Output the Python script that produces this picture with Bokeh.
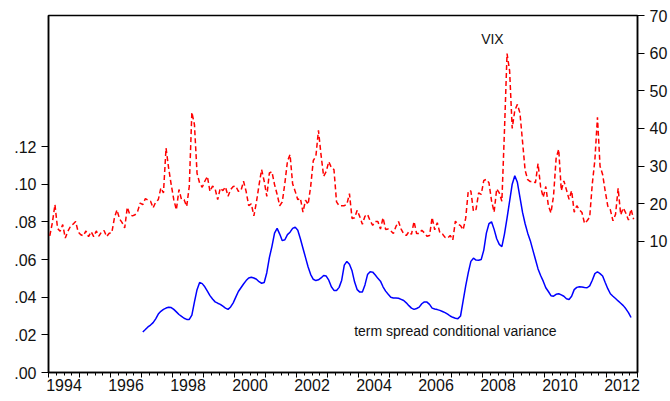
from bokeh.plotting import figure
from bokeh.models import Range1d, LinearAxis, FixedTicker, Label
from bokeh.embed import file_html
from bokeh.resources import INLINE

# ---------------- data ----------------
# VIX, monthly, Jan 1994 .. Nov 2012 (right axis)
vix_start = (1994, 1)
vix = [
    11.5, 15.0, 19.8, 13.5, 12.7, 14.5, 10.9, 12.7, 14.0, 14.6, 15.3, 12.5,
    11.8, 11.5, 12.8, 11.3, 12.6, 11.3, 12.8, 11.4, 12.5, 12.9, 11.3, 12.2,
    12.3, 16.2, 18.4, 16.0, 15.0, 13.6, 19.1, 17.1, 16.8, 17.1, 18.0, 20.2,
    19.8, 21.4, 21.0, 20.7, 18.9, 20.5, 21.1, 24.2, 22.9, 34.8, 29.5, 25.1,
    21.1, 18.4, 23.8, 21.1, 21.1, 19.3, 24.7, 44.3, 41.0, 28.1, 25.5, 24.4,
    26.0, 27.3, 23.3, 24.7, 24.0, 21.1, 24.2, 23.5, 24.5, 22.0, 23.8, 24.6,
    24.7, 23.3, 23.5, 26.0, 23.3, 19.5, 20.0, 16.8, 20.5, 25.0, 29.1, 26.0,
    22.0, 28.2, 28.5, 25.1, 22.5, 19.5, 20.5, 25.5, 31.3, 33.1, 25.3, 23.3,
    21.1, 21.5, 17.8, 21.0, 19.8, 24.7, 31.5, 32.6, 39.5, 33.0, 27.3, 28.6,
    31.2, 29.6, 29.1, 20.5, 19.5, 19.5, 19.5, 19.9, 22.7, 16.1, 16.3, 18.3,
    16.6, 14.6, 16.7, 17.2, 15.5, 14.3, 15.3, 15.3, 13.3, 16.3, 13.2, 13.3,
    12.8, 12.1, 14.0, 15.3, 13.3, 12.0, 11.6, 12.6, 11.9, 15.3, 12.1, 12.1,
    13.0, 12.3, 11.4, 11.6, 16.4, 13.1, 15.0, 12.3, 12.0, 11.1, 10.9, 11.6,
    10.4, 15.4, 14.6, 14.2, 13.1, 16.2, 23.5, 23.4, 18.0, 18.5, 22.9, 22.5,
    26.2, 26.5, 25.6, 20.8, 17.8, 24.0, 22.9, 20.7, 39.4, 59.9, 55.3, 40.0,
    44.8, 46.4, 44.1, 36.5, 28.9, 26.4, 25.9, 26.0, 25.6, 30.7, 24.5, 21.7,
    24.6, 19.5, 17.6, 22.1, 32.1, 34.5, 23.5, 26.1, 23.7, 21.2, 23.5, 17.8,
    19.5, 18.4, 17.7, 14.8, 15.5, 16.5, 25.3, 31.6, 43.0, 30.0, 27.8, 23.4,
    19.4, 18.4, 15.5, 17.2, 24.1, 17.1, 18.9, 17.5, 15.7, 18.6, 15.9,
]

# term spread conditional variance, monthly, Jan 1997 .. Oct 2012 (left axis)
term_start = (1997, 1)
term_var = [
    .0215, .0228, .0242, .0252, .0265, .0285, .0310, .0325, .0335, .0342, .0346, .0345,
    .0335, .0322, .0308, .0298, .0288, .0282, .0282, .0305, .0375, .0440, .0478, .0472,
    .0455, .0432, .0408, .0390, .0375, .0368, .0362, .0352, .0342, .0335, .0348, .0370,
    .0400, .0430, .0450, .0470, .0488, .0502, .0506, .0502, .0495, .0482, .0474, .0478,
    .0530, .0610, .0670, .0740, .0765, .0735, .0700, .0705, .0732, .0745, .0765, .0772,
    .0755, .0710, .0660, .0610, .0560, .0520, .0495, .0488, .0492, .0502, .0515, .0512,
    .0490, .0455, .0436, .0436, .0452, .0490, .0570, .0590, .0575, .0540, .0480, .0440,
    .0427, .0428, .0465, .0520, .0535, .0533, .0518, .0500, .0485, .0455, .0432, .0415,
    .0400, .0396, .0395, .0394, .0388, .0382, .0370, .0355, .0342, .0335, .0340, .0347,
    .0365, .0375, .0374, .0362, .0342, .0337, .0334, .0330, .0324, .0318, .0310, .0300,
    .0293, .0288, .0286, .0300, .0380, .0460, .0530, .0590, .0607, .0597, .0596, .0600,
    .0650, .0740, .0790, .0800, .0760, .0710, .0680, .0668, .0735, .0820, .0910, .1000,
    .1045, .1010, .0930, .0850, .0790, .0740, .0700, .0650, .0600, .0550, .0515, .0485,
    .0450, .0430, .0408, .0405, .0415, .0418, .0412, .0405, .0392, .0388, .0405, .0440,
    .0452, .0455, .0454, .0451, .0450, .0460, .0490, .0525, .0535, .0525, .0512, .0478,
    .0445, .0418, .0405, .0393, .0380, .0368, .0355, .0338, .0318, .0292,
]

left_ticks = [0.00, 0.02, 0.04, 0.06, 0.08, 0.10, 0.12]
left_labels = [".00", ".02", ".04", ".06", ".08", ".10", ".12"]
right_ticks = [10, 20, 30, 40, 50, 60, 70]
right_labels = ["10", "20", "30", "40", "50", "60", "70"]
year_ticks = list(range(1994, 2014))
year_labels = ["1994", "1996", "1998", "2000", "2002", "2004", "2006",
               "2008", "2010", "2012"]

FONT = "Liberation Sans"
TICK_FONT_SIZE = "16px"


def month_positions(start, n):
    y0, m0 = start
    return [y0 + (m0 - 1 + k + 0.5) / 12.0 for k in range(n)]


vix_t = month_positions(vix_start, len(vix))
term_t = month_positions(term_start, len(term_var))

# ---------------- figure ----------------
p = figure(width=670, height=401,
           x_range=Range1d(1994, 2013), y_range=Range1d(0, 0.18956),
           output_backend="svg", toolbar_location=None,
           x_axis_location=None, y_axis_location=None,
           min_border_left=48, min_border_right=30,
           min_border_top=15, min_border_bottom=29,
           background_fill_color="white", border_fill_color="white")
p.extra_y_ranges = {"vix": Range1d(-24.78, 70)}
p.xgrid.grid_line_color = None
p.ygrid.grid_line_color = None
p.outline_line_color = "black"
p.outline_line_width = 1.5
p.outline_line_alpha = 1.0


def style_axis(ax):
    ax.axis_line_color = "black"
    ax.axis_line_width = 1.5
    ax.major_tick_line_color = "black"
    ax.minor_tick_line_color = "black"
    ax.major_tick_in = 0
    ax.minor_tick_in = 0
    ax.major_label_text_font = FONT
    ax.major_label_text_font_size = TICK_FONT_SIZE
    ax.major_label_text_color = "#111111"


left = LinearAxis(ticker=FixedTicker(ticks=left_ticks, minor_ticks=[]),
                  major_label_overrides=dict(zip(left_ticks, left_labels)))
style_axis(left)
left.major_tick_out = 7
left.major_label_standoff = 5
p.add_layout(left, "left")

right = LinearAxis(y_range_name="vix",
                   ticker=FixedTicker(ticks=right_ticks, minor_ticks=[]),
                   major_label_overrides=dict(zip(right_ticks, right_labels)))
style_axis(right)
right.major_tick_out = 7
right.major_label_standoff = 5
p.add_layout(right, "right")

quarter_ticks = [y + q / 4.0 for y in year_ticks[:-1] for q in (1, 2, 3)]
xticks_axis = LinearAxis(ticker=FixedTicker(ticks=year_ticks, minor_ticks=quarter_ticks),
                         major_label_overrides={y: "" for y in year_ticks})
style_axis(xticks_axis)
xticks_axis.major_tick_out = 5
xticks_axis.minor_tick_out = 3
xticks_axis.major_label_text_font_size = "0px"
xticks_axis.major_label_standoff = 0
p.add_layout(xticks_axis, "below")

label_pos = [int(s) + 0.5 for s in year_labels]
xlabels_axis = LinearAxis(ticker=FixedTicker(ticks=label_pos, minor_ticks=[]),
                          major_label_overrides=dict(zip(label_pos, year_labels)))
style_axis(xlabels_axis)
xlabels_axis.axis_line_color = None
xlabels_axis.major_tick_line_color = None
xlabels_axis.major_tick_out = 0
xlabels_axis.major_label_standoff = 1
p.add_layout(xlabels_axis, "below")

p.line(vix_t, vix, y_range_name="vix", line_color="#FF0000",
       line_width=1.5, line_dash="5 3")
p.line(term_t, term_var, line_color="#0000FF", line_width=1.5)

p.add_layout(Label(x=2008.32, y=0.1771, text="VIX", text_align="center",
                   text_baseline="middle", text_font=FONT,
                   text_font_size="14px", text_color="#111111"))
p.add_layout(Label(x=2003.86, y=0.0223, text="term spread conditional variance",
                   text_align="left", text_baseline="middle", text_font=FONT,
                   text_font_size="14px", text_color="#111111"))

open("out.html", "w").write(file_html(p, INLINE))
